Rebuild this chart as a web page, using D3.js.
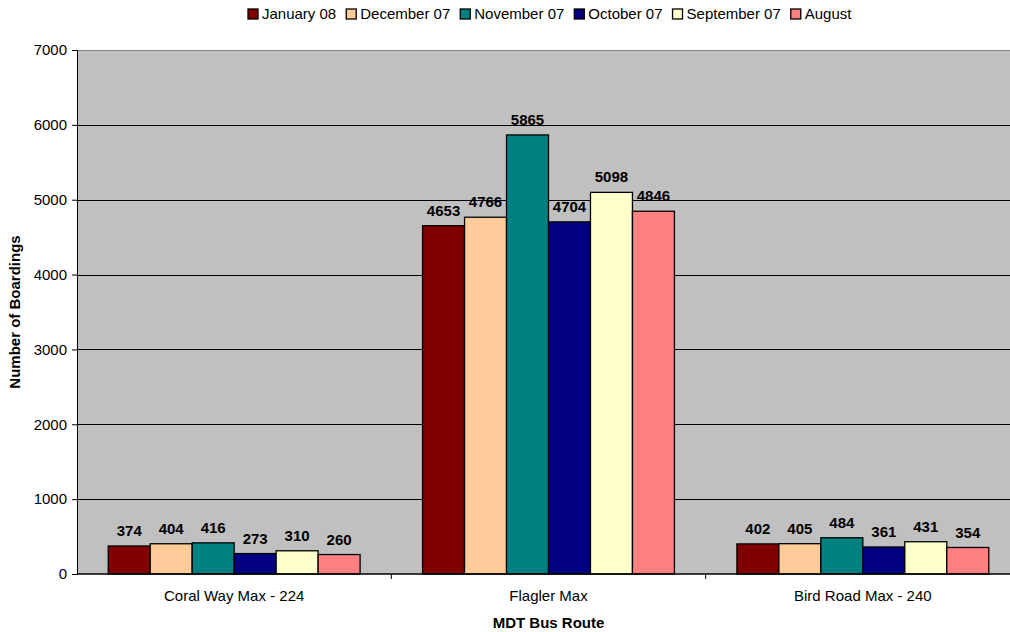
<!DOCTYPE html>
<html>
<head>
<meta charset="utf-8">
<script src="https://cdn.jsdelivr.net/npm/d3@7"></script>
<style>
body { margin: 0; background: #fff; }
svg { font-family: "Liberation Sans", Arial, sans-serif; }
</style>
</head>
<body>
<div id="chart"></div>
<script>
var routes = ["Coral Way Max - 224", "Flagler Max", "Bird Road Max - 240"];
var months = ["January 08", "December 07", "November 07", "October 07", "September 07", "August"];
var colors = ["#800000", "#FFCC99", "#008080", "#000080", "#FFFFCC", "#FF8080"];
// one row per month, values per route
var jan08 = [374, 4653, 402];
var dec07 = [404, 4766, 405];
var nov07 = [416, 5865, 484];
var oct07 = [273, 4704, 361];
var sep07 = [310, 5098, 431];
var aug07 = [260, 4846, 354];
var yTicks = [0, 1000, 2000, 3000, 4000, 5000, 6000, 7000];

var series = [jan08, dec07, nov07, oct07, sep07, aug07];
var data = [];
routes.forEach(function(r, i) {
  months.forEach(function(m, j) {
    data.push({route: r, month: m, value: series[j][i], color: colors[j]});
  });
});

var W = 1010, H = 632;
var pLeft = 77, pRight = 1020, pTop = 50, pBottom = 574;

var svg = d3.select("#chart").append("svg")
  .attr("width", W).attr("height", H);

var x = d3.scaleBand().domain(routes).range([pLeft, pRight]).padding(0);
var xs = d3.scaleBand().domain(months).range([0, x.bandwidth()])
  .paddingInner(0).paddingOuter(0.744);
var y = d3.scaleLinear().domain([0, 7000]).range([pBottom, pTop]);

// plot background
svg.append("rect")
  .attr("x", pLeft).attr("y", pTop)
  .attr("width", pRight - pLeft).attr("height", pBottom - pTop)
  .attr("fill", "#C0C0C0");

// gridlines
svg.append("g").selectAll("line")
  .data(yTicks.filter(function(d) { return d > 0; }))
  .enter().append("line")
    .attr("x1", pLeft).attr("x2", pRight)
    .attr("y1", function(d) { return Math.round(y(d)) + 0.5; })
    .attr("y2", function(d) { return Math.round(y(d)) + 0.5; })
    .attr("stroke", function(d) { return d == 7000 ? "#808080" : "#000"; })
    .attr("stroke-width", 1);

// bars
svg.append("g").selectAll("rect")
  .data(data)
  .enter().append("rect")
    .attr("x", function(d) { return x(d.route) + xs(d.month); })
    .attr("y", function(d) { return y(d.value); })
    .attr("width", xs.bandwidth())
    .attr("height", function(d) { return pBottom - y(d.value); })
    .attr("fill", function(d) { return d.color; })
    .attr("stroke", "#000")
    .attr("stroke-width", 1.3);

// value labels
svg.append("g").selectAll("text")
  .data(data)
  .enter().append("text")
    .attr("x", function(d) { return x(d.route) + xs(d.month) + xs.bandwidth() / 2; })
    .attr("y", function(d) { return y(d.value) - 10; })
    .attr("text-anchor", "middle")
    .attr("font-size", "15px")
    .attr("font-weight", "bold")
    .text(function(d) { return d.value; });

// y axis
var yAxis = svg.append("g")
  .attr("transform", "translate(" + pLeft + ",0)")
  .call(d3.axisLeft(y).tickValues(yTicks).tickSize(5).tickPadding(5).tickFormat(d3.format("d")));
yAxis.selectAll("text").attr("font-size", "15px").attr("font-family", "Liberation Sans, Arial, sans-serif").attr("fill", "#000");
yAxis.select(".domain").attr("stroke", "#000");

// x axis
var xAxis = svg.append("g")
  .attr("transform", "translate(0," + pBottom + ")");
xAxis.append("line")
  .attr("x1", pLeft).attr("x2", pRight).attr("y1", 0).attr("y2", 0)
  .attr("stroke", "#000").attr("stroke-width", 1.3);
xAxis.selectAll(".sep")
  .data(routes)
  .enter().append("line")
    .attr("class", "sep")
    .attr("x1", function(d) { return x(d) + x.bandwidth(); })
    .attr("x2", function(d) { return x(d) + x.bandwidth(); })
    .attr("y1", 0).attr("y2", 5)
    .attr("stroke", "#000");
xAxis.selectAll(".cat")
  .data(routes)
  .enter().append("text")
    .attr("class", "cat")
    .attr("x", function(d) { return x(d) + x.bandwidth() / 2; })
    .attr("y", 27)
    .attr("text-anchor", "middle")
    .attr("font-size", "15px")
    .text(function(d) { return d; });

// axis titles
svg.append("text")
  .attr("x", (pLeft + pRight) / 2).attr("y", 628)
  .attr("text-anchor", "middle")
  .attr("font-size", "15px").attr("font-weight", "bold")
  .text("MDT Bus Route");
svg.append("text")
  .attr("transform", "translate(20," + ((pTop + pBottom) / 2) + ") rotate(-90)")
  .attr("text-anchor", "middle")
  .attr("font-size", "15px").attr("font-weight", "bold")
  .text("Number of Boardings");

// legend
var legend = svg.append("g");
var lx = 248;
months.forEach(function(m, i) {
  var g = legend.append("g").attr("transform", "translate(" + lx + ",0)");
  g.append("rect")
    .attr("x", 0).attr("y", 9).attr("width", 10).attr("height", 10)
    .attr("fill", colors[i]).attr("stroke", "#000").attr("stroke-width", 1.3);
  var t = g.append("text")
    .attr("x", 14).attr("y", 19)
    .attr("font-size", "15px")
    .text(m);
  lx += 14 + t.node().getComputedTextLength() + 10;
});
</script>
</body>
</html>
